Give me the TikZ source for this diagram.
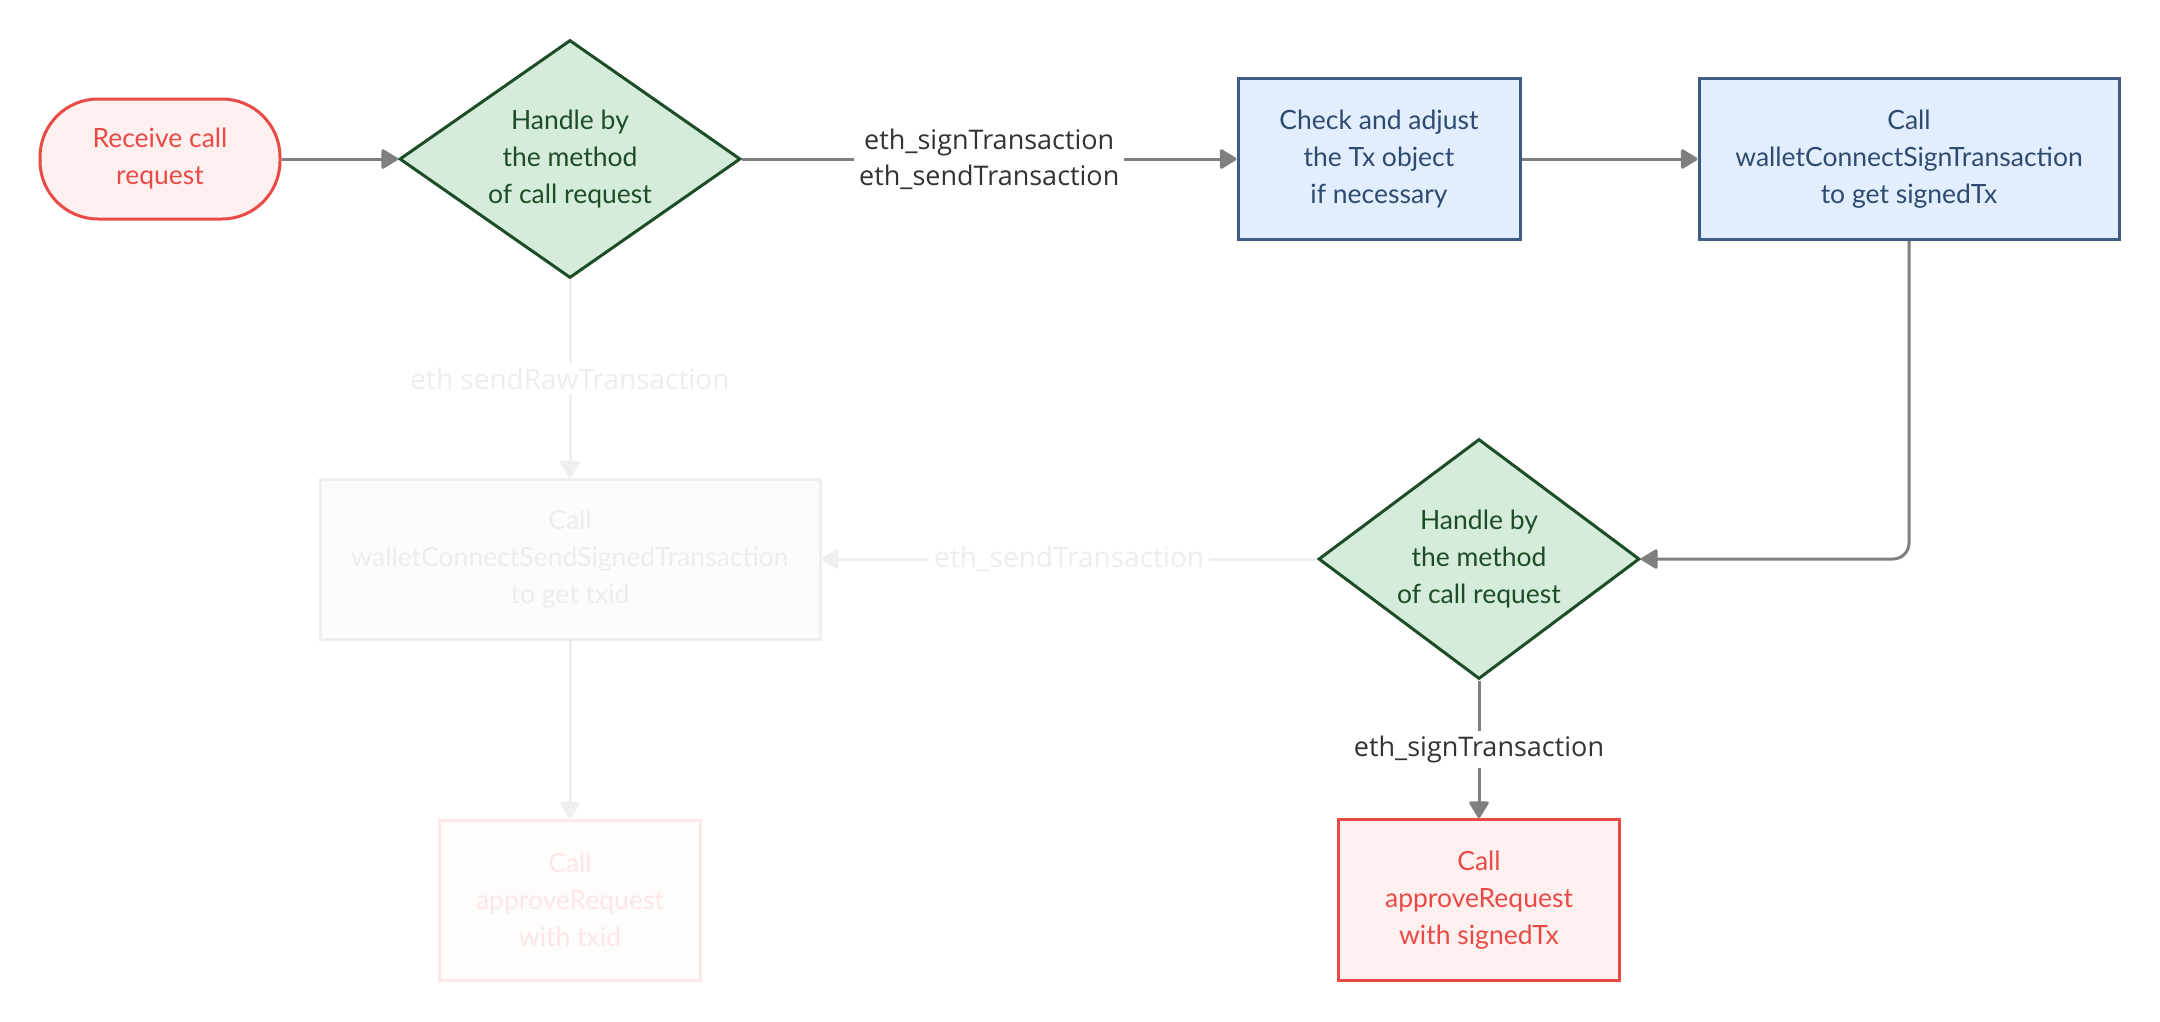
\documentclass[tikz,border=0pt]{standalone}
\usepackage{fontspec}
\setmainfont{Lato}
\newfontfamily\lblfont{Open Sans}
\usetikzlibrary{shapes.geometric,arrows.meta}
\definecolor{redline}{HTML}{EA4A46}
\definecolor{redfill}{HTML}{FFF0F0}
\definecolor{greenline}{HTML}{1C4D27}
\definecolor{greenfill}{HTML}{D5ECDA}
\definecolor{blueline}{HTML}{3D5B83}
\definecolor{bluefill}{HTML}{E2EEFD}
\definecolor{bluetext}{HTML}{2F4A71}
\definecolor{arrowgray}{HTML}{7F7F7F}
\definecolor{lbltext}{HTML}{333333}
\definecolor{fadeline}{HTML}{EFEFF1}
\definecolor{fadefill}{HTML}{FAFCFE}
\definecolor{fadetext}{HTML}{EDEDEF}
\definecolor{faderedline}{HTML}{FDE8E8}
\definecolor{faderedfill}{HTML}{FFFCFC}
\definecolor{faderedtext}{HTML}{FCE6E6}
\tikzset{
  nodetext/.style={font=\fontsize{26.5}{37}\selectfont, align=center, inner sep=0pt},
  pill/.style={nodetext, draw=redline, fill=redfill, text=redline, line width=3pt,
    minimum width=240pt, minimum height=120pt, rounded corners=58pt},
  decision/.style={nodetext, diamond, draw=greenline, fill=greenfill, text=greenline,
    line width=3pt, aspect=1.43},
  process/.style={nodetext, rectangle, draw=blueline, fill=bluefill, text=bluetext,
    line width=3pt, minimum height=161pt},
  endbox/.style={nodetext, rectangle, draw=redline, fill=redfill, text=redline,
    line width=3pt, minimum width=281pt, minimum height=161pt},
  fadebox/.style={nodetext, rectangle, draw=fadeline, fill=fadefill, text=fadetext,
    line width=3pt, minimum height=160pt},
  faderedbox/.style={nodetext, rectangle, draw=faderedline, fill=faderedfill, text=faderedtext,
    line width=3pt, minimum height=160pt},
  flow/.style={draw=arrowgray, line width=3pt, -{Triangle[width=21pt,length=18pt,round]}},
  fadeflow/.style={draw=fadeline, line width=3pt, -{Triangle[width=21pt,length=18pt,round]}},
  edgelabel/.style={font=\lblfont\fontsize{27}{36}\selectfont, text=lbltext, fill=white,
    align=center, inner sep=5pt},
  fadelabel/.style={font=\lblfont\fontsize{28}{36}\selectfont, text=fadetext, fill=white,
    align=center, inner sep=5pt},
}
\begin{document}
\begin{tikzpicture}[x=1pt,y=-1pt]
\useasboundingbox[fill=white] (0,0) rectangle (2160,1021);

\node[pill] (recv) at (160,159) {Receive call\\request};
\node[decision, minimum width=341pt, minimum height=238pt] (d1) at (570,159) {Handle by\\the method\\of call request};
\node[process, minimum width=282pt] (check) at (1379,159) {Check and adjust\\the Tx object\\if necessary};
\node[process, minimum width=420pt] (sign) at (1909,159) {Call\\walletConnectSignTransaction\\to get signedTx};
\node[decision, minimum width=321pt, minimum height=240pt] (d2) at (1479,559) {Handle by\\the method\\of call request};
\node[endbox] (appr) at (1479,900) {Call\\approveRequest\\with signedTx};
\node[fadebox, minimum width=500pt] (send) at (570,559) {Call\\walletConnectSendSignedTransaction\\to get txid};
\node[faderedbox, minimum width=261pt] (txid) at (570,900) {Call\\approveRequest\\with txid};

\draw[flow] (recv.east) -- (d1.west);
\draw[flow] (d1.east) -- node[edgelabel] (l1) {eth\_signTransaction\\eth\_sendTransaction} (check.west);
\draw[flow] (check.east) -- (sign.west);
\draw[flow, rounded corners=16pt] (sign.south) |- (d2.east);
\draw[flow] (d2.south) -- node[edgelabel] (l2) {eth\_signTransaction} (appr.north);

\draw[fadeflow] (d1.south) -- node[fadelabel] (l3) {eth sendRawTransaction} (send.north);
\draw[fadeflow] (d2.west) -- node[fadelabel] (l4) {eth\_sendTransaction} (send.east);
\draw[fadeflow] (send.south) -- (txid.north);
\end{tikzpicture}
\end{document}
